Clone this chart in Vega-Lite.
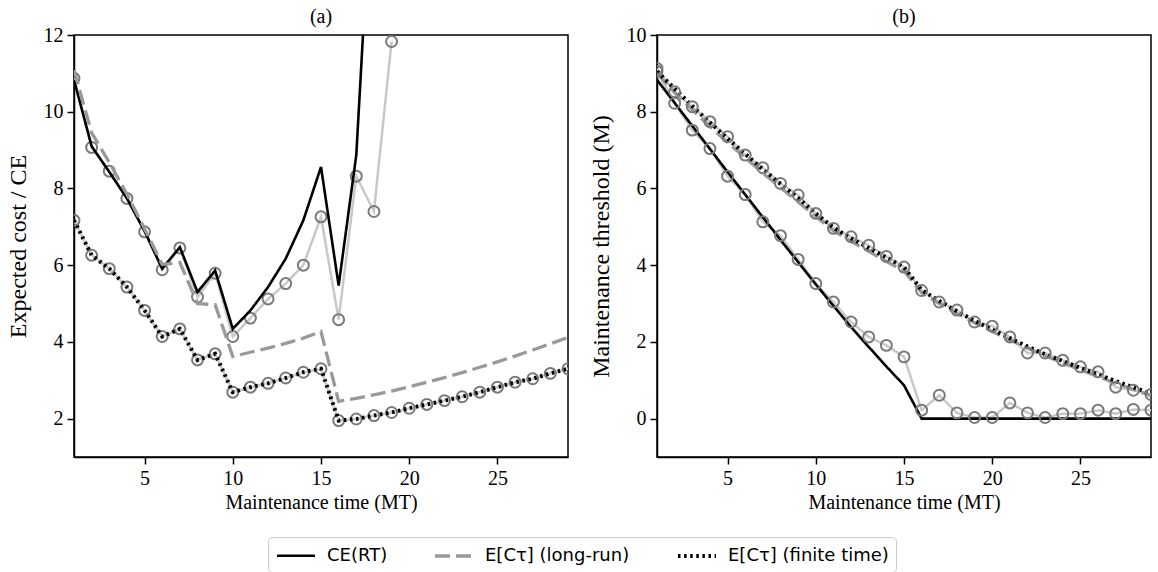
{
  "$schema": "https://vega.github.io/schema/vega-lite/v6.json",
  "background": "white",
  "padding": {"left": 5, "top": 6, "right": 5, "bottom": 0},
  "spacing": 89,
  "bounds": "flush",
  "config": {
    "font": "Liberation Serif",
    "view": {"stroke": "black", "strokeWidth": 1.5},
    "axis": {"grid": false, "domainColor": "black", "tickColor": "black", "labelColor": "black", "titleColor": "black", "labelFont": "Liberation Serif", "titleFont": "Liberation Serif", "labelFontSize": 20, "titleFontSize": 20, "titleFontWeight": "normal", "tickSize": 7, "domainWidth": 1.5, "tickWidth": 1.5, "labelPadding": 4},
    "axisY": {"titlePadding": 13, "titleFontSize": 24},
    "title": {"font": "Liberation Serif", "fontSize": 20, "fontWeight": "normal", "color": "black", "offset": -2}
  },
  "datasets": {
    "aLines": [
      {"x": 1, "s": "CE(RT)", "v": 10.83}, {"x": 2, "s": "CE(RT)", "v": 9.10}, {"x": 3, "s": "CE(RT)", "v": 8.43}, {"x": 4, "s": "CE(RT)", "v": 7.74}, {"x": 5, "s": "CE(RT)", "v": 6.89}, {"x": 6, "s": "CE(RT)", "v": 5.91}, {"x": 7, "s": "CE(RT)", "v": 6.47}, {"x": 8, "s": "CE(RT)", "v": 5.30}, {"x": 9, "s": "CE(RT)", "v": 5.86}, {"x": 10, "s": "CE(RT)", "v": 4.34}, {"x": 11, "s": "CE(RT)", "v": 4.82}, {"x": 12, "s": "CE(RT)", "v": 5.43}, {"x": 13, "s": "CE(RT)", "v": 6.17}, {"x": 14, "s": "CE(RT)", "v": 7.17}, {"x": 15, "s": "CE(RT)", "v": 8.56}, {"x": 16, "s": "CE(RT)", "v": 5.47}, {"x": 17, "s": "CE(RT)", "v": 8.87}, {"x": 18, "s": "CE(RT)", "v": 17.1},
      {"x": 1, "s": "E[Cτ] (long-run)", "v": 11.09}, {"x": 2, "s": "E[Cτ] (long-run)", "v": 9.45}, {"x": 3, "s": "E[Cτ] (long-run)", "v": 8.68}, {"x": 4, "s": "E[Cτ] (long-run)", "v": 7.85}, {"x": 5, "s": "E[Cτ] (long-run)", "v": 6.95}, {"x": 6, "s": "E[Cτ] (long-run)", "v": 6.02}, {"x": 7, "s": "E[Cτ] (long-run)", "v": 6.07}, {"x": 8, "s": "E[Cτ] (long-run)", "v": 5.0}, {"x": 9, "s": "E[Cτ] (long-run)", "v": 4.97}, {"x": 10, "s": "E[Cτ] (long-run)", "v": 3.62}, {"x": 11, "s": "E[Cτ] (long-run)", "v": 3.73}, {"x": 12, "s": "E[Cτ] (long-run)", "v": 3.84}, {"x": 13, "s": "E[Cτ] (long-run)", "v": 3.96}, {"x": 14, "s": "E[Cτ] (long-run)", "v": 4.1}, {"x": 15, "s": "E[Cτ] (long-run)", "v": 4.27}, {"x": 16, "s": "E[Cτ] (long-run)", "v": 2.45}, {"x": 17, "s": "E[Cτ] (long-run)", "v": 2.53}, {"x": 18, "s": "E[Cτ] (long-run)", "v": 2.62}, {"x": 19, "s": "E[Cτ] (long-run)", "v": 2.72}, {"x": 20, "s": "E[Cτ] (long-run)", "v": 2.83}, {"x": 21, "s": "E[Cτ] (long-run)", "v": 2.95}, {"x": 22, "s": "E[Cτ] (long-run)", "v": 3.07}, {"x": 23, "s": "E[Cτ] (long-run)", "v": 3.2}, {"x": 24, "s": "E[Cτ] (long-run)", "v": 3.34}, {"x": 25, "s": "E[Cτ] (long-run)", "v": 3.48}, {"x": 26, "s": "E[Cτ] (long-run)", "v": 3.63}, {"x": 27, "s": "E[Cτ] (long-run)", "v": 3.79}, {"x": 28, "s": "E[Cτ] (long-run)", "v": 3.95}, {"x": 29, "s": "E[Cτ] (long-run)", "v": 4.12},
      {"x": 1, "s": "E[Cτ] (finite time)", "v": 7.17}, {"x": 2, "s": "E[Cτ] (finite time)", "v": 6.26}, {"x": 3, "s": "E[Cτ] (finite time)", "v": 5.91}, {"x": 4, "s": "E[Cτ] (finite time)", "v": 5.43}, {"x": 5, "s": "E[Cτ] (finite time)", "v": 4.82}, {"x": 6, "s": "E[Cτ] (finite time)", "v": 4.14}, {"x": 7, "s": "E[Cτ] (finite time)", "v": 4.34}, {"x": 8, "s": "E[Cτ] (finite time)", "v": 3.53}, {"x": 9, "s": "E[Cτ] (finite time)", "v": 3.69}, {"x": 10, "s": "E[Cτ] (finite time)", "v": 2.69}, {"x": 11, "s": "E[Cτ] (finite time)", "v": 2.82}, {"x": 12, "s": "E[Cτ] (finite time)", "v": 2.92}, {"x": 13, "s": "E[Cτ] (finite time)", "v": 3.06}, {"x": 14, "s": "E[Cτ] (finite time)", "v": 3.21}, {"x": 15, "s": "E[Cτ] (finite time)", "v": 3.30}, {"x": 16, "s": "E[Cτ] (finite time)", "v": 1.95}, {"x": 17, "s": "E[Cτ] (finite time)", "v": 1.99}, {"x": 18, "s": "E[Cτ] (finite time)", "v": 2.08}, {"x": 19, "s": "E[Cτ] (finite time)", "v": 2.16}, {"x": 20, "s": "E[Cτ] (finite time)", "v": 2.27}, {"x": 21, "s": "E[Cτ] (finite time)", "v": 2.37}, {"x": 22, "s": "E[Cτ] (finite time)", "v": 2.47}, {"x": 23, "s": "E[Cτ] (finite time)", "v": 2.57}, {"x": 24, "s": "E[Cτ] (finite time)", "v": 2.69}, {"x": 25, "s": "E[Cτ] (finite time)", "v": 2.82}, {"x": 26, "s": "E[Cτ] (finite time)", "v": 2.95}, {"x": 27, "s": "E[Cτ] (finite time)", "v": 3.04}, {"x": 28, "s": "E[Cτ] (finite time)", "v": 3.18}, {"x": 29, "s": "E[Cτ] (finite time)", "v": 3.30}
    ],
    "aSim": [
      {"x": 1, "s": "simCE", "v": 10.87}, {"x": 2, "s": "simCE", "v": 9.07}, {"x": 3, "s": "simCE", "v": 8.45}, {"x": 4, "s": "simCE", "v": 7.74}, {"x": 5, "s": "simCE", "v": 6.87}, {"x": 6, "s": "simCE", "v": 5.88}, {"x": 7, "s": "simCE", "v": 6.45}, {"x": 8, "s": "simCE", "v": 5.17}, {"x": 9, "s": "simCE", "v": 5.79}, {"x": 10, "s": "simCE", "v": 4.14}, {"x": 11, "s": "simCE", "v": 4.62}, {"x": 12, "s": "simCE", "v": 5.12}, {"x": 13, "s": "simCE", "v": 5.52}, {"x": 14, "s": "simCE", "v": 6.0}, {"x": 15, "s": "simCE", "v": 7.26}, {"x": 16, "s": "simCE", "v": 4.58}, {"x": 17, "s": "simCE", "v": 8.32}, {"x": 18, "s": "simCE", "v": 7.40}, {"x": 19, "s": "simCE", "v": 11.83},
      {"x": 1, "s": "simFT", "v": 7.17}, {"x": 2, "s": "simFT", "v": 6.26}, {"x": 3, "s": "simFT", "v": 5.91}, {"x": 4, "s": "simFT", "v": 5.43}, {"x": 5, "s": "simFT", "v": 4.82}, {"x": 6, "s": "simFT", "v": 4.14}, {"x": 7, "s": "simFT", "v": 4.34}, {"x": 8, "s": "simFT", "v": 3.53}, {"x": 9, "s": "simFT", "v": 3.69}, {"x": 10, "s": "simFT", "v": 2.69}, {"x": 11, "s": "simFT", "v": 2.82}, {"x": 12, "s": "simFT", "v": 2.92}, {"x": 13, "s": "simFT", "v": 3.06}, {"x": 14, "s": "simFT", "v": 3.21}, {"x": 15, "s": "simFT", "v": 3.30}, {"x": 16, "s": "simFT", "v": 1.95}, {"x": 17, "s": "simFT", "v": 1.99}, {"x": 18, "s": "simFT", "v": 2.08}, {"x": 19, "s": "simFT", "v": 2.16}, {"x": 20, "s": "simFT", "v": 2.27}, {"x": 21, "s": "simFT", "v": 2.37}, {"x": 22, "s": "simFT", "v": 2.47}, {"x": 23, "s": "simFT", "v": 2.57}, {"x": 24, "s": "simFT", "v": 2.69}, {"x": 25, "s": "simFT", "v": 2.82}, {"x": 26, "s": "simFT", "v": 2.95}, {"x": 27, "s": "simFT", "v": 3.04}, {"x": 28, "s": "simFT", "v": 3.18}, {"x": 29, "s": "simFT", "v": 3.30}
    ],
    "bLines": [
      {"x": 1, "s": "CE(RT)", "v": 8.83}, {"x": 2, "s": "CE(RT)", "v": 8.23}, {"x": 3, "s": "CE(RT)", "v": 7.63}, {"x": 4, "s": "CE(RT)", "v": 7.03}, {"x": 5, "s": "CE(RT)", "v": 6.43}, {"x": 6, "s": "CE(RT)", "v": 5.84}, {"x": 7, "s": "CE(RT)", "v": 5.25}, {"x": 8, "s": "CE(RT)", "v": 4.66}, {"x": 9, "s": "CE(RT)", "v": 4.08}, {"x": 10, "s": "CE(RT)", "v": 3.50}, {"x": 11, "s": "CE(RT)", "v": 2.94}, {"x": 12, "s": "CE(RT)", "v": 2.39}, {"x": 13, "s": "CE(RT)", "v": 1.87}, {"x": 14, "s": "CE(RT)", "v": 1.36}, {"x": 15, "s": "CE(RT)", "v": 0.87}, {"x": 16, "s": "CE(RT)", "v": 0}, {"x": 17, "s": "CE(RT)", "v": 0}, {"x": 18, "s": "CE(RT)", "v": 0}, {"x": 19, "s": "CE(RT)", "v": 0}, {"x": 20, "s": "CE(RT)", "v": 0}, {"x": 21, "s": "CE(RT)", "v": 0}, {"x": 22, "s": "CE(RT)", "v": 0}, {"x": 23, "s": "CE(RT)", "v": 0}, {"x": 24, "s": "CE(RT)", "v": 0}, {"x": 25, "s": "CE(RT)", "v": 0}, {"x": 26, "s": "CE(RT)", "v": 0}, {"x": 27, "s": "CE(RT)", "v": 0}, {"x": 28, "s": "CE(RT)", "v": 0}, {"x": 29, "s": "CE(RT)", "v": 0},
      {"x": 1, "s": "E[Cτ] (long-run)", "v": 9.0}, {"x": 2, "s": "E[Cτ] (long-run)", "v": 8.5}, {"x": 3, "s": "E[Cτ] (long-run)", "v": 8.05}, {"x": 4, "s": "E[Cτ] (long-run)", "v": 7.62}, {"x": 5, "s": "E[Cτ] (long-run)", "v": 7.2}, {"x": 6, "s": "E[Cτ] (long-run)", "v": 6.8}, {"x": 7, "s": "E[Cτ] (long-run)", "v": 6.4}, {"x": 8, "s": "E[Cτ] (long-run)", "v": 6.02}, {"x": 9, "s": "E[Cτ] (long-run)", "v": 5.65}, {"x": 10, "s": "E[Cτ] (long-run)", "v": 5.27}, {"x": 11, "s": "E[Cτ] (long-run)", "v": 4.9}, {"x": 12, "s": "E[Cτ] (long-run)", "v": 4.62}, {"x": 13, "s": "E[Cτ] (long-run)", "v": 4.36}, {"x": 14, "s": "E[Cτ] (long-run)", "v": 4.1}, {"x": 15, "s": "E[Cτ] (long-run)", "v": 3.85}, {"x": 16, "s": "E[Cτ] (long-run)", "v": 3.28}, {"x": 17, "s": "E[Cτ] (long-run)", "v": 3.0}, {"x": 18, "s": "E[Cτ] (long-run)", "v": 2.74}, {"x": 19, "s": "E[Cτ] (long-run)", "v": 2.5}, {"x": 20, "s": "E[Cτ] (long-run)", "v": 2.27}, {"x": 21, "s": "E[Cτ] (long-run)", "v": 2.05}, {"x": 22, "s": "E[Cτ] (long-run)", "v": 1.84}, {"x": 23, "s": "E[Cτ] (long-run)", "v": 1.64}, {"x": 24, "s": "E[Cτ] (long-run)", "v": 1.45}, {"x": 25, "s": "E[Cτ] (long-run)", "v": 1.27}, {"x": 26, "s": "E[Cτ] (long-run)", "v": 1.1}, {"x": 27, "s": "E[Cτ] (long-run)", "v": 0.92}, {"x": 28, "s": "E[Cτ] (long-run)", "v": 0.76}, {"x": 29, "s": "E[Cτ] (long-run)", "v": 0.6},
      {"x": 1, "s": "E[Cτ] (finite time)", "v": 9.05}, {"x": 2, "s": "E[Cτ] (finite time)", "v": 8.6}, {"x": 3, "s": "E[Cτ] (finite time)", "v": 8.15}, {"x": 4, "s": "E[Cτ] (finite time)", "v": 7.72}, {"x": 5, "s": "E[Cτ] (finite time)", "v": 7.3}, {"x": 6, "s": "E[Cτ] (finite time)", "v": 6.9}, {"x": 7, "s": "E[Cτ] (finite time)", "v": 6.5}, {"x": 8, "s": "E[Cτ] (finite time)", "v": 6.12}, {"x": 9, "s": "E[Cτ] (finite time)", "v": 5.75}, {"x": 10, "s": "E[Cτ] (finite time)", "v": 5.35}, {"x": 11, "s": "E[Cτ] (finite time)", "v": 4.98}, {"x": 12, "s": "E[Cτ] (finite time)", "v": 4.7}, {"x": 13, "s": "E[Cτ] (finite time)", "v": 4.45}, {"x": 14, "s": "E[Cτ] (finite time)", "v": 4.2}, {"x": 15, "s": "E[Cτ] (finite time)", "v": 3.95}, {"x": 16, "s": "E[Cτ] (finite time)", "v": 3.35}, {"x": 17, "s": "E[Cτ] (finite time)", "v": 3.07}, {"x": 18, "s": "E[Cτ] (finite time)", "v": 2.8}, {"x": 19, "s": "E[Cτ] (finite time)", "v": 2.55}, {"x": 20, "s": "E[Cτ] (finite time)", "v": 2.32}, {"x": 21, "s": "E[Cτ] (finite time)", "v": 2.1}, {"x": 22, "s": "E[Cτ] (finite time)", "v": 1.88}, {"x": 23, "s": "E[Cτ] (finite time)", "v": 1.68}, {"x": 24, "s": "E[Cτ] (finite time)", "v": 1.5}, {"x": 25, "s": "E[Cτ] (finite time)", "v": 1.32}, {"x": 26, "s": "E[Cτ] (finite time)", "v": 1.15}, {"x": 27, "s": "E[Cτ] (finite time)", "v": 0.98}, {"x": 28, "s": "E[Cτ] (finite time)", "v": 0.82}, {"x": 29, "s": "E[Cτ] (finite time)", "v": 0.65}
    ],
    "bSim": [
      {"x": 1, "s": "simCE", "v": 9.05}, {"x": 2, "s": "simCE", "v": 8.22}, {"x": 3, "s": "simCE", "v": 7.52}, {"x": 4, "s": "simCE", "v": 7.04}, {"x": 5, "s": "simCE", "v": 6.32}, {"x": 6, "s": "simCE", "v": 5.84}, {"x": 7, "s": "simCE", "v": 5.13}, {"x": 8, "s": "simCE", "v": 4.77}, {"x": 9, "s": "simCE", "v": 4.15}, {"x": 10, "s": "simCE", "v": 3.52}, {"x": 11, "s": "simCE", "v": 3.04}, {"x": 12, "s": "simCE", "v": 2.52}, {"x": 13, "s": "simCE", "v": 2.13}, {"x": 14, "s": "simCE", "v": 1.91}, {"x": 15, "s": "simCE", "v": 1.61}, {"x": 16, "s": "simCE", "v": 0.22}, {"x": 17, "s": "simCE", "v": 0.61}, {"x": 18, "s": "simCE", "v": 0.15}, {"x": 19, "s": "simCE", "v": 0.03}, {"x": 20, "s": "simCE", "v": 0.03}, {"x": 21, "s": "simCE", "v": 0.41}, {"x": 22, "s": "simCE", "v": 0.15}, {"x": 23, "s": "simCE", "v": 0.03}, {"x": 24, "s": "simCE", "v": 0.13}, {"x": 25, "s": "simCE", "v": 0.13}, {"x": 26, "s": "simCE", "v": 0.22}, {"x": 27, "s": "simCE", "v": 0.13}, {"x": 28, "s": "simCE", "v": 0.24}, {"x": 29, "s": "simCE", "v": 0.22},
      {"x": 1, "s": "simFT", "v": 9.13}, {"x": 2, "s": "simFT", "v": 8.52}, {"x": 3, "s": "simFT", "v": 8.13}, {"x": 4, "s": "simFT", "v": 7.74}, {"x": 5, "s": "simFT", "v": 7.35}, {"x": 6, "s": "simFT", "v": 6.87}, {"x": 7, "s": "simFT", "v": 6.54}, {"x": 8, "s": "simFT", "v": 6.13}, {"x": 9, "s": "simFT", "v": 5.83}, {"x": 10, "s": "simFT", "v": 5.35}, {"x": 11, "s": "simFT", "v": 4.96}, {"x": 12, "s": "simFT", "v": 4.74}, {"x": 13, "s": "simFT", "v": 4.52}, {"x": 14, "s": "simFT", "v": 4.23}, {"x": 15, "s": "simFT", "v": 3.95}, {"x": 16, "s": "simFT", "v": 3.34}, {"x": 17, "s": "simFT", "v": 3.04}, {"x": 18, "s": "simFT", "v": 2.83}, {"x": 19, "s": "simFT", "v": 2.52}, {"x": 20, "s": "simFT", "v": 2.41}, {"x": 21, "s": "simFT", "v": 2.13}, {"x": 22, "s": "simFT", "v": 1.71}, {"x": 23, "s": "simFT", "v": 1.71}, {"x": 24, "s": "simFT", "v": 1.52}, {"x": 25, "s": "simFT", "v": 1.35}, {"x": 26, "s": "simFT", "v": 1.22}, {"x": 27, "s": "simFT", "v": 0.82}, {"x": 28, "s": "simFT", "v": 0.74}, {"x": 29, "s": "simFT", "v": 0.63}
    ]
  },
  "resolve": {"scale": {"x": "independent", "y": "independent"}},
  "hconcat": [
    {
      "width": 494, "height": 422,
      "title": "(a)",
      "layer": [
        {
          "data": {"name": "aSim"},
          "mark": {"type": "line", "clip": true, "color": "#c8c8c8", "strokeWidth": 2.5},
          "encoding": {
            "x": {"field": "x", "type": "quantitative", "scale": {"domain": [1, 29], "nice": false}, "axis": {"values": [5, 10, 15, 20, 25], "title": "Maintenance time (MT)"}},
            "y": {"field": "v", "type": "quantitative", "scale": {"domain": [1, 12], "nice": false}, "axis": {"values": [2, 4, 6, 8, 10, 12], "title": "Expected cost / CE"}},
            "detail": {"field": "s"}
          }
        },
        {
          "data": {"name": "aSim"},
          "mark": {"type": "point", "clip": true, "shape": "circle", "filled": false, "stroke": "#7a7a7a", "strokeWidth": 2, "size": 120, "opacity": 1},
          "encoding": {
            "x": {"field": "x", "type": "quantitative"},
            "y": {"field": "v", "type": "quantitative"}
          }
        },
        {
          "data": {"name": "aLines"},
          "mark": {"type": "line", "clip": true},
          "encoding": {
            "x": {"field": "x", "type": "quantitative"},
            "y": {"field": "v", "type": "quantitative"},
            "color": {"field": "s", "type": "nominal", "title": null,
              "scale": {"domain": ["CE(RT)", "E[Cτ] (long-run)", "E[Cτ] (finite time)"], "range": ["#000000", "#999999", "#000000"]},
              "legend": {"orient": "none", "legendX": 194, "legendY": 502, "direction": "horizontal", "columns": 3, "symbolType": "M-1,0H2.8", "symbolSize": 400, "labelFont": "DejaVu Sans", "labelFontSize": 18, "labelLimit": 400, "labelColor": "black", "strokeColor": "#cccccc", "cornerRadius": 4, "padding": 7, "fillColor": "white", "columnPadding": 40, "labelOffset": 28}},
            "strokeDash": {"field": "s", "type": "nominal", "scale": {"domain": ["CE(RT)", "E[Cτ] (long-run)", "E[Cτ] (finite time)"], "range": [[1, 0], [15, 6], [2.5, 3.6]]}, "legend": null},
            "strokeWidth": {"field": "s", "type": "nominal", "scale": {"domain": ["CE(RT)", "E[Cτ] (long-run)", "E[Cτ] (finite time)"], "range": [2.6, 4, 2.6]}, "legend": null},
            "order": {"field": "x"}
          }
        }
      ]
    },
    {
      "width": 494, "height": 422,
      "title": "(b)",
      "layer": [
        {
          "data": {"name": "bSim"},
          "mark": {"type": "line", "clip": true, "color": "#c8c8c8", "strokeWidth": 2.5},
          "encoding": {
            "x": {"field": "x", "type": "quantitative", "scale": {"domain": [1, 29], "nice": false}, "axis": {"values": [5, 10, 15, 20, 25], "title": "Maintenance time (MT)"}},
            "y": {"field": "v", "type": "quantitative", "scale": {"domain": [-1, 10], "nice": false}, "axis": {"values": [0, 2, 4, 6, 8, 10], "title": "Maintenance threshold (M)"}},
            "detail": {"field": "s"}
          }
        },
        {
          "data": {"name": "bLines"},
          "mark": {"type": "line", "clip": true},
          "encoding": {
            "x": {"field": "x", "type": "quantitative"},
            "y": {"field": "v", "type": "quantitative"},
            "color": {"field": "s", "type": "nominal", "scale": {"domain": ["CE(RT)", "E[Cτ] (long-run)", "E[Cτ] (finite time)"], "range": ["#000000", "#999999", "#000000"]}, "legend": null},
            "strokeDash": {"field": "s", "type": "nominal", "scale": {"domain": ["CE(RT)", "E[Cτ] (long-run)", "E[Cτ] (finite time)"], "range": [[1, 0], [15, 6], [2.5, 3.6]]}, "legend": null},
            "strokeWidth": {"field": "s", "type": "nominal", "scale": {"domain": ["CE(RT)", "E[Cτ] (long-run)", "E[Cτ] (finite time)"], "range": [2.6, 4, 2.6]}, "legend": null},
            "order": {"field": "x"}
          }
        },
        {
          "data": {"name": "bSim"},
          "mark": {"type": "point", "clip": true, "shape": "circle", "filled": false, "stroke": "#7a7a7a", "strokeWidth": 2, "size": 120, "opacity": 1},
          "encoding": {
            "x": {"field": "x", "type": "quantitative"},
            "y": {"field": "v", "type": "quantitative"}
          }
        }
      ]
    }
  ]
}
